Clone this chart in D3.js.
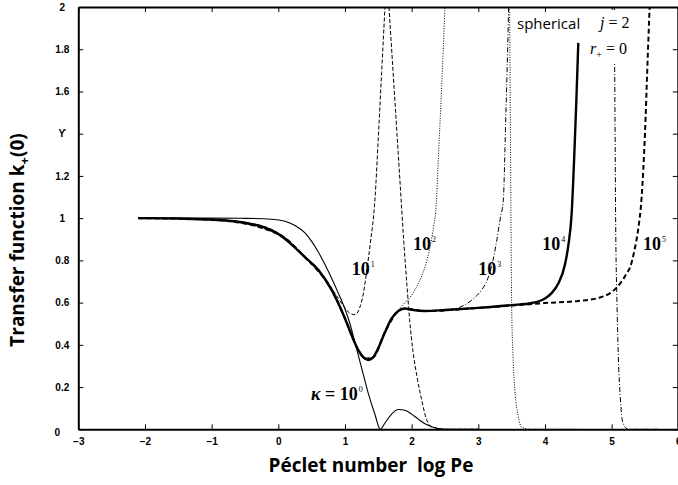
<!DOCTYPE html>
<html><head><meta charset="utf-8">
<script src="https://cdn.jsdelivr.net/npm/d3@7"></script>
<style>body{margin:0;background:#fff}</style></head>
<body><svg id="c" width="678" height="485"></svg>
<script>
// ---------- data ----------
const xTicks = [-3,-2,-1,0,1,2,3,4,5,6];
const yTicks = [0,0.2,0.4,0.6,0.8,1,1.2,1.4,1.6,1.8,2];
const yTickLabels = ["0","0.2","0.4","0.6","0.8","1","1.2","\u03D2","1.6","1.8","2"];

// kappa = 10^0 (thin solid)
const kappa0 = [[-2.1,1.0],[-1,1.0],[-0.5,0.999],[-0.1,0.995],[0.1,0.985],[0.25,0.965],[0.4,0.93],[0.5,0.89],[0.6,0.84],[0.7,0.78],[0.8,0.715],[0.9,0.645],[1.0,0.57],[1.075,0.5],[1.15,0.41],[1.25,0.29],[1.35,0.17],[1.45,0.07],[1.53,0.0],[1.6,0.03],[1.7,0.072],[1.8,0.094],[1.9,0.09],[2.0,0.072],[2.1,0.048],[2.2,0.026],[2.3,0.012],[2.4,0.004],[2.6,0.0],[3.0,0.0]];
// kappa = 10^4 (thick solid) - main curve
const kappa4 = [[-2.1,1.0],[-1.5,0.998],[-1.0,0.993],[-0.5,0.978],[-0.2,0.955],[0,0.925],[0.2,0.875],[0.4,0.815],[0.6,0.755],[0.8,0.66],[1.0,0.525],[1.1,0.445],[1.2,0.375],[1.3,0.335],[1.36,0.328],[1.42,0.34],[1.5,0.385],[1.6,0.46],[1.7,0.525],[1.8,0.56],[1.9,0.572],[2.0,0.566],[2.2,0.56],[2.5,0.565],[3.0,0.575],[3.5,0.588],[3.8,0.598],[4.0,0.62],[4.1,0.645],[4.2,0.69],[4.3,0.78],[4.35,0.87],[4.4,1.02],[4.44,1.3],[4.47,1.55],[4.5,1.83]];
// kappa = 10^1 (thin dashed)
const kappa1 = [[-2.1,1.0],[-1,0.994],[-0.5,0.98],[0,0.93],[0.4,0.82],[0.7,0.715],[0.9,0.62],[1.0,0.575],[1.08,0.548],[1.15,0.543],[1.22,0.575],[1.28,0.65],[1.33,0.76],[1.38,0.88],[1.45,1.09],[1.5,1.38],[1.55,1.69],[1.6,2.0]];
const kappa1b = [[1.66,2.0],[1.72,1.7],[1.78,1.4],[1.83,1.15],[1.88,0.9],[1.93,0.68],[1.97,0.52],[2.02,0.37],[2.08,0.25],[2.15,0.14],[2.22,0.05],[2.3,0.012],[2.5,0.0],[3.0,0.0]];
// kappa = 10^2 (dotted)
const kappa2 = [[-2.1,1.0],[-1.0,0.993],[-0.5,0.978],[0,0.925],[0.4,0.815],[0.8,0.66],[1.0,0.525],[1.2,0.375],[1.3,0.335],[1.42,0.34],[1.6,0.46],[1.7,0.528],[1.8,0.566],[1.9,0.6],[2.0,0.635],[2.1,0.69],[2.2,0.77],[2.28,0.87],[2.33,0.96],[2.37,1.07],[2.4,1.28],[2.45,1.62],[2.5,2.0]];
const kappa2b = [[3.47,2.0],[3.48,1.5],[3.49,1.0],[3.5,0.6],[3.52,0.35],[3.55,0.18],[3.6,0.06],[3.65,0.01],[3.8,0.0],[4.5,0.0]];
// kappa = 10^3 (dash-dot)
const kappa3 = [[-2.1,1.0],[-1.0,0.993],[0,0.925],[0.4,0.815],[0.8,0.66],[1.0,0.525],[1.2,0.375],[1.3,0.335],[1.42,0.34],[1.6,0.46],[1.8,0.56],[1.9,0.572],[2.2,0.56],[2.6,0.568],[2.8,0.59],[2.95,0.625],[3.05,0.66],[3.15,0.72],[3.22,0.8],[3.28,0.9],[3.33,1.0],[3.375,1.085],[3.41,1.45],[3.44,1.8],[3.455,2.0]];
const kappa3b = [[5.04,2.0],[5.05,1.5],[5.06,1.0],[5.08,0.6],[5.1,0.35],[5.13,0.15],[5.17,0.03],[5.25,0.0],[5.7,0.0]];
// kappa = 10^5 (thick dashed)
const kappa5 = [[-2.1,1.0],[-1.0,0.993],[0,0.925],[0.4,0.815],[0.8,0.66],[1.0,0.525],[1.2,0.375],[1.3,0.335],[1.42,0.34],[1.6,0.46],[1.8,0.56],[1.9,0.572],[2.2,0.56],[3.0,0.575],[3.5,0.586],[4.0,0.598],[4.5,0.608],[4.8,0.622],[5.0,0.65],[5.1,0.68],[5.2,0.725],[5.3,0.79],[5.35,0.86],[5.4,0.95],[5.45,1.1],[5.5,1.4],[5.54,1.75],[5.57,2.0]];

const seriesLabels = [
  {t:"10", s:"1", x:1.1, y:0.73},
  {t:"10", s:"2", x:2.02, y:0.85},
  {t:"10", s:"3", x:3.0, y:0.73},
  {t:"10", s:"4", x:3.96, y:0.85},
  {t:"10", s:"5", x:5.47, y:0.85}
];

// ---------- layout ----------
const svg = d3.select("#c");
const L = 78.3, R = 678.3, T = 7, B = 429.3;
const x = d3.scaleLinear().domain([-3,6]).range([L,R]);
const y = d3.scaleLinear().domain([0,2]).range([B,T]);

svg.append("defs").append("clipPath").attr("id","clip")
  .append("rect").attr("x",L).attr("y",T).attr("width",R-L).attr("height",B-T);

const line = d3.line().x(d=>x(d[0])).y(d=>y(d[1])).curve(d3.curveMonotoneX);
const g = svg.append("g").attr("clip-path","url(#clip)");
function draw(data, w, dash){
  g.append("path").datum(data).attr("d",line).attr("fill","none")
   .attr("stroke","#000").attr("stroke-width",w).attr("stroke-dasharray",dash||null);
}
draw(kappa0, 1.1);
draw(kappa1, 1, "4,2");
draw(kappa1b, 1, "4,2");
draw(kappa2, 1, "1,1.5");
draw(kappa2b, 1, "1,1.5");
draw(kappa3, 1, "5,2,1,2");
draw(kappa3b, 1, "5,2,1,2");
draw(kappa5, 2, "5,3");
draw(kappa4, 2.4);

// ---------- axes ----------
const tickFont = "bold 10px 'Liberation Sans', Arial, sans-serif";
const ax = svg.append("g").attr("transform",`translate(0,${B})`)
  .call(d3.axisBottom(x).tickValues(xTicks).tickSizeInner(-5).tickSizeOuter(0).tickPadding(9));
const ayl = svg.append("g").attr("transform",`translate(${L},0)`)
  .call(d3.axisLeft(y).tickValues(yTicks).tickFormat((d,i)=>yTickLabels[i]).tickSizeInner(-5).tickSizeOuter(0).tickPadding(16));
const axt = svg.append("g").attr("transform",`translate(0,${T})`)
  .call(d3.axisTop(x).tickValues(xTicks).tickSizeInner(-5).tickSizeOuter(0).tickFormat(""));
const ayr = svg.append("g").attr("transform",`translate(${R-0.5},0)`)
  .call(d3.axisRight(y).tickValues(yTicks).tickSizeInner(-5).tickSizeOuter(0).tickFormat(""));
[ax,ayl,axt,ayr].forEach(a=>{
  a.select(".domain").attr("stroke-width",2);
  a.selectAll(".tick line").attr("stroke-width",1);
  a.selectAll("text").style("font",tickFont).attr("fill","#000");
});
ayl.selectAll("text").attr("text-anchor","middle");
ayl.selectAll(".tick").filter(d=>d===0).select("text").attr("x",-21).attr("dy","0.62em");

// ---------- axis titles ----------
svg.append("text").attr("x",371).attr("y",472).attr("text-anchor","middle")
  .style("font","bold 19px 'Open Sans', sans-serif").style("white-space","pre")
  .text("Péclet number  log Pe");
const yt = svg.append("text").attr("transform","translate(24,240) rotate(-90)").attr("text-anchor","middle")
  .style("font","bold 19px 'Open Sans', sans-serif");
yt.append("tspan").text("Transfer function k");
yt.append("tspan").attr("dy",5).style("font-size","13px").text("+");
yt.append("tspan").attr("dy",-5).text("(0)");

// ---------- curve labels ----------
const serif = "'Liberation Serif','Times New Roman',serif";
seriesLabels.forEach(l=>{
  const t = svg.append("text").attr("x",x(l.x)).attr("y",y(l.y))
    .style("font",`bold 18px ${serif}`);
  t.append("tspan").text(l.t);
  t.append("tspan").attr("dy",-8).attr("dx",1).style("font-size","8px").style("font-weight","normal").text(l.s);
});
const k0 = svg.append("text").attr("x",311).attr("y",400).style("font",`bold 18px ${serif}`);
k0.append("tspan").style("font-style","italic").text("\u03BA");
k0.append("tspan").text(" = 10");
k0.append("tspan").attr("dy",-8).attr("dx",1).style("font-size","8px").style("font-weight","normal").text("0");

// ---------- legend text ----------
svg.append("rect").attr("x",588).attr("y",10).attr("width",50).attr("height",52).attr("fill","#fff");
svg.append("text").attr("x",517).attr("y",29).style("font","15px 'Open Sans', sans-serif").text("spherical");
const j = svg.append("text").attr("x",600).attr("y",28).style("font",`16px ${serif}`);
j.append("tspan").style("font-style","italic").text("j");
j.append("tspan").text(" = 2");
const r = svg.append("text").attr("x",590).attr("y",54).style("font",`16px ${serif}`);
r.append("tspan").style("font-style","italic").text("r");
r.append("tspan").attr("dy",4).style("font-size","10px").text("+");
r.append("tspan").attr("dy",-4).text(" = 0");
</script></body></html>
